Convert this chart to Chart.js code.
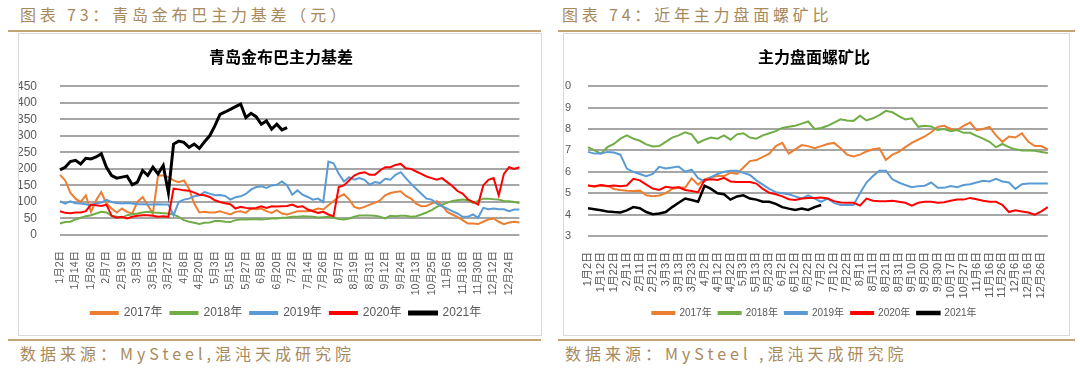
<!DOCTYPE html>
<html>
<head>
<meta charset="utf-8">
<script src="https://cdn.jsdelivr.net/npm/chart.js@4.4.1/dist/chart.umd.min.js"></script>
<style>
  body { margin: 0; width: 1080px; height: 370px; background: #fff; position: relative; overflow: hidden; font-family: "Noto Sans CJK SC", sans-serif; }
  .hd { position: absolute; top: 4px; font-size: 16px; letter-spacing: 3.8px; color: #a8895b; line-height: 20px; white-space: nowrap; }
  .rule { position: absolute; height: 2px; background: #c3a473; }
  .box { position: absolute; top: 33px; height: 303px; border: 1px solid #d9d9d9; box-sizing: border-box; }
  .ft { position: absolute; top: 343px; font-size: 16px; letter-spacing: 4px; color: #a8895b; line-height: 20px; white-space: nowrap; }
  canvas { position: absolute; top: 34px; }
</style>
</head>
<body>
<div class="hd" style="left:20px">图表 73：青岛金布巴主力基差（元）</div>
<div class="hd" style="left:562px">图表 74：近年主力盘面螺矿比</div>
<div class="rule" style="left:8px;width:533px;top:30px"></div>
<div class="rule" style="left:558px;width:517px;top:30px"></div>
<div class="box" style="left:18px;width:524px"></div>
<div class="box" style="left:563px;width:507px"></div>
<div class="rule" style="left:8px;width:533px;top:339px"></div>
<div class="rule" style="left:558px;width:517px;top:339px"></div>
<div class="ft" style="left:20px">数据来源：MySteel,混沌天成研究院</div>
<div class="ft" style="left:565px">数据来源：MySteel ,混沌天成研究院</div>

<canvas id="basisChart" width="521" height="301" style="left:19px;width:521px;height:301px"></canvas>
<canvas id="ratioChart" width="505" height="301" style="left:564px;width:505px;height:301px"></canvas>

<script>
// 左图：青岛金布巴主力基差，x 轴每个刻度之间取 3 个点
const basisTicks = ['1月2日','1月14日','1月26日','2月7日','2月19日','3月3日','3月15日','3月27日','4月8日','4月20日',
  '5月3日','5月15日','5月27日','6月8日','6月20日','7月2日','7月14日','7月26日','8月7日','8月19日',
  '8月31日','9月12日','9月24日','10月13日','10月25日','11月6日','11月18日','11月30日','12月12日','12月24日'];

const basis2017 = [182,165,128,110,100,120,70,105,130,95,80,68,80,70,65,100,115,90,65,180,180,175,165,160,165,140,95,68,70,68,
  68,72,67,62,70,72,67,80,78,80,72,67,75,65,62,67,72,72,72,75,80,77,90,103,115,123,108,85,80,85,
  92,97,105,120,127,130,132,118,110,95,87,88,95,102,90,70,62,55,45,35,35,33,40,47,50,40,33,38,40,38];
const basis2018 = [35,39,40,47,52,57,60,65,70,68,58,55,52,60,63,65,68,70,68,67,66,65,62,55,45,40,37,33,37,38,
  42,42,40,39,45,47,47,48,48,47,48,50,50,52,53,55,55,57,56,55,53,54,55,52,48,47,50,55,59,59,
  59,58,55,50,58,57,58,58,55,57,62,68,75,85,92,97,103,105,107,105,97,103,110,110,108,107,103,102,100,97];
const basis2019 = [102,95,102,96,95,93,90,95,98,106,100,97,95,97,95,93,93,92,92,93,92,92,60,100,107,110,117,120,130,125,
  120,121,118,107,114,117,124,137,145,147,142,150,152,162,150,122,135,122,115,107,110,100,222,217,185,162,175,167,172,167,
  152,160,157,170,167,182,190,172,155,140,125,110,107,95,87,80,72,65,55,55,62,52,82,78,80,78,78,72,77,77];
const basis2020 = [72,67,66,68,68,72,92,90,88,92,58,52,55,50,55,58,60,60,58,55,57,55,140,138,135,134,128,122,120,115,
  105,100,96,93,80,85,82,80,82,87,82,87,86,87,88,92,85,87,77,72,67,70,62,57,145,150,165,180,187,190,
  182,182,195,205,205,212,215,202,200,192,185,177,172,167,172,160,148,133,125,108,100,92,150,167,172,120,185,205,200,205];
const basis2021 = [197,205,222,226,215,232,230,236,246,205,180,172,175,178,152,160,195,180,205,185,210,128,275,284,280,265,275,262,282,300,
  330,365,372,380,388,396,355,368,358,335,345,320,335,318,325];

// 右图：主力盘面螺矿比，x 轴每个刻度之间取 2 个点
const ratioTicks = ['1月2日','1月12日','1月22日','2月1日','2月11日','2月21日','3月3日','3月13日','3月23日','4月2日',
  '4月12日','4月22日','5月3日','5月13日','5月23日','6月2日','6月12日','6月22日','7月2日','7月12日',
  '7月22日','8月1日','8月11日','8月21日','8月31日','9月10日','9月20日','9月30日','10月17日','10月27日',
  '11月6日','11月16日','11月26日','12月6日','12月16日','12月26日'];

const ratio2017 = [5.36,5.3,5.36,5.35,5.2,5.15,5.12,5.1,5.12,4.9,4.86,4.89,5.0,5.2,5.28,5.25,5.7,5.4,5.65,5.75,5.8,5.8,5.95,5.9,6.2,6.5,6.55,6.7,6.85,7.2,7.35,6.85,7.05,7.25,7.2,7.1,
  7.2,7.3,7.35,7.1,6.8,6.72,6.8,6.95,7.05,7.1,6.55,6.8,6.93,7.15,7.35,7.5,7.65,7.85,8.1,8.15,8.0,7.95,8.15,8.3,7.95,8.0,8.1,7.7,7.4,7.65,7.6,7.8,7.4,7.2,7.2,7.05];
const ratio2018 = [7.15,7.0,6.85,7.15,7.3,7.55,7.7,7.55,7.45,7.28,7.18,7.2,7.4,7.6,7.7,7.85,7.75,7.35,7.5,7.6,7.55,7.7,7.5,7.75,7.8,7.6,7.55,7.7,7.8,7.9,8.05,8.1,8.15,8.25,8.35,8.0,
  8.05,8.15,8.3,8.45,8.4,8.38,8.62,8.4,8.5,8.65,8.85,8.78,8.6,8.45,8.5,8.1,8.15,8.12,7.95,8.0,7.9,7.95,7.82,7.82,7.68,7.55,7.4,7.15,7.3,7.15,7.05,7.0,7.0,6.98,6.93,6.88];
const ratio2019 = [6.93,6.85,6.86,6.93,6.9,6.8,6.15,6.0,5.9,5.8,5.9,6.23,6.15,6.2,6.25,6.0,6.1,5.7,5.55,5.75,5.9,6.0,6.05,6.05,5.95,5.85,5.6,5.4,5.2,5.05,5.0,4.95,4.85,4.75,4.9,4.75,
  4.6,4.75,4.55,4.45,4.45,4.45,5.0,5.5,5.8,6.05,6.05,5.65,5.5,5.38,5.28,5.33,5.35,5.5,5.25,5.25,5.33,5.28,5.38,5.42,5.5,5.58,5.55,5.67,5.55,5.5,5.2,5.42,5.45,5.45,5.45,5.45];
const ratio2020 = [5.36,5.32,5.38,5.32,5.36,5.32,5.36,5.67,5.6,5.4,5.22,5.15,5.3,5.25,5.28,5.15,5.1,5.05,5.62,5.65,5.62,5.72,5.55,5.52,5.52,5.52,5.45,5.2,5.02,4.95,4.85,4.72,4.68,4.75,4.78,4.78,
  4.8,4.75,4.63,4.57,4.55,4.55,4.42,4.75,4.65,4.62,4.62,4.65,4.6,4.55,4.42,4.55,4.6,4.6,4.55,4.58,4.65,4.7,4.7,4.78,4.72,4.65,4.6,4.6,4.45,4.12,4.2,4.15,4.1,4.0,4.15,4.35];
const ratio2021 = [4.3,4.25,4.2,4.15,4.12,4.1,4.2,4.35,4.3,4.12,4.02,4.05,4.12,4.35,4.55,4.75,4.68,4.6,5.35,5.2,5.0,4.95,4.7,4.85,4.9,4.75,4.7,4.6,4.6,4.5,4.35,4.28,4.22,4.28,4.22,4.35,4.45];

const yearNames = ['2017年','2018年','2019年','2020年','2021年'];
const yearColors = ['#ed7d31','#70ad47','#5b9bd5','#ff0000','#000000'];

const fontFamily = "'Liberation Sans', 'Noto Sans CJK SC', sans-serif";
const gridColor = '#a6a6a6';
const textColor = '#595959';

// 标题和图例整体右移一点（原图是相对整个图框居中的）
const shiftBoxes = {
    id: 'shiftBoxes',
    afterLayout(chart, args, opts) {
        if (chart.titleBlock) { chart.titleBlock.left += opts.title; chart.titleBlock.right += opts.title; }
        if (chart.legend) { chart.legend.left += opts.legend; chart.legend.right += opts.legend; }
    }
};

// 水平网格线：按 y 轴刻度位置画
const gridLines = {
    id: 'gridLines',
    afterDraw(chart) {
        const { ctx, chartArea, scales } = chart;
        const y = scales.y;
        ctx.save();
        ctx.globalCompositeOperation = 'destination-over';
        ctx.fillStyle = gridColor;
        y.ticks.forEach(t => {
            const py = Math.round(y.getPixelForValue(t.value));
            ctx.fillRect(chartArea.left, py - 1, chartArea.right - chartArea.left, 2);
        });
        ctx.restore();
    }
};

function buildDatasets(seriesList, widths) {
    return seriesList.map((values, i) => ({
        label: yearNames[i],
        data: values,
        borderColor: yearColors[i],
        backgroundColor: yearColors[i],
        borderWidth: widths[i],
        pointRadius: 0,
        tension: 0,
        fill: false,
        order: seriesList.length - i   // 2021 画在最上层
    }));
}

function makeChart(id, cfg) {
    const ctx = document.getElementById(id).getContext('2d');
    return new Chart(ctx, {
        type: 'line',
        data: {
            labels: cfg.labels,
            datasets: buildDatasets(cfg.series, cfg.widths)
        },
        plugins: [shiftBoxes, gridLines],
        options: {
            responsive: false,
            animation: false,
            layout: { padding: { left: 0, right: cfg.padRight, top: 0, bottom: cfg.padBottom } },
            scales: {
                x: {
                    grid: { display: false },
                    border: { display: false },
                    ticks: {
                        autoSkip: false,
                        maxRotation: 90,
                        minRotation: 90,
                        padding: 8,
                        color: textColor,
                        font: { family: fontFamily, size: cfg.xFont }
                    },
                    afterFit: scale => { scale.height = cfg.xHeight; }
                },
                y: {
                    min: cfg.yMin,
                    max: cfg.yMax,
                    grid: { display: false },
                    border: { display: false },
                    ticks: {
                        autoSkip: false,
                        stepSize: cfg.yStep,
                        padding: cfg.yPad,
                        color: textColor,
                        font: { family: fontFamily, size: cfg.yFont }
                    },
                    afterFit: scale => { scale.width = cfg.yWidth; }
                }
            },
            plugins: {
                shiftBoxes: { title: cfg.titleDx, legend: cfg.legendDx },
                title: {
                    display: true,
                    text: cfg.title,
                    color: '#000',
                    font: { family: "'Noto Sans CJK SC', sans-serif", size: 16, weight: 'bold' },
                    padding: { top: 13, bottom: 20 }
                },
                legend: {
                    position: 'bottom',
                    labels: {
                        boxWidth: cfg.legendBox,
                        boxHeight: 2,
                        padding: cfg.legendPad,
                        color: textColor,
                        font: { family: fontFamily, size: cfg.legendFont },
                        sort: (a, b) => a.datasetIndex - b.datasetIndex
                    }
                },
                tooltip: { enabled: false }
            }
        }
    });
}

document.addEventListener("DOMContentLoaded", function () {
    makeChart('basisChart', {
        title: '青岛金布巴主力基差',
        labels: basisTicks.flatMap(t => [t, '', '']),
        series: [basis2017, basis2018, basis2019, basis2020, basis2021],
        widths: [2, 2, 2, 2, 3],
        yMin: 0, yMax: 450, yStep: 50,
        yWidth: 41, yPad: 15, yFont: 12,
        xFont: 10.5, xHeight: 64,
        padRight: 15, padBottom: 6,
        titleDx: 9, legendDx: 14,
        legendBox: 27, legendPad: 8, legendFont: 12
    });

    makeChart('ratioChart', {
        title: '主力盘面螺矿比',
        labels: ratioTicks.flatMap(t => [t, '']),
        series: [ratio2017, ratio2018, ratio2019, ratio2020, ratio2021],
        widths: [2, 2, 2, 2, 2.5],
        yMin: 3, yMax: 10, yStep: 1,
        yWidth: 24, yPad: 9, yFont: 11,
        xFont: 11, xHeight: 65,
        padRight: 19, padBottom: 7,
        titleDx: 7, legendDx: 7.5,
        legendBox: 22, legendPad: 7, legendFont: 10
    });
});
</script>
</body>
</html>
